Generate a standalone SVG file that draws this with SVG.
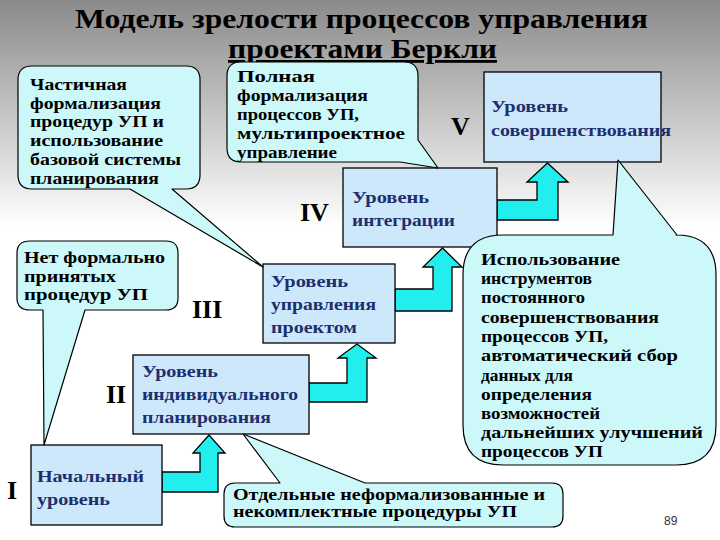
<svg xmlns="http://www.w3.org/2000/svg" width="720" height="540" viewBox="0 0 720 540">
<defs>
<linearGradient id="bg" x1="0" y1="0" x2="0" y2="1">
<stop offset="0" stop-color="#8a8a8a"/>
<stop offset="0.42" stop-color="#ffffff"/>
<stop offset="1" stop-color="#ffffff"/>
</linearGradient>
<style>
.title{font-family:"Liberation Serif","Times New Roman",serif;font-weight:bold;font-size:28px;fill:#000}
.roman{font-family:"Liberation Serif","Times New Roman",serif;font-weight:bold;font-size:26px;fill:#000}
.box{fill:#cde8fb;stroke:#000;stroke-width:1.3}
.btxt{font-family:"Liberation Serif","Times New Roman",serif;font-weight:bold;font-size:17px;fill:#1f2f6e}
.call{fill:#ccf8fa;stroke:#000;stroke-width:1.2;stroke-linejoin:round}
.ctxt{font-family:"Liberation Serif","Times New Roman",serif;font-weight:bold;font-size:17px;fill:#000}
.ctxe{font-family:"Liberation Serif","Times New Roman",serif;font-weight:bold;font-size:16px;fill:#000}
.arrow{fill:#22eeee;stroke:#000;stroke-width:1.3;stroke-linejoin:miter}
.pg{font-family:"Liberation Sans",Arial,sans-serif;font-size:12px;fill:#333}
</style>
</defs>
<rect x="0" y="0" width="720" height="540" fill="url(#bg)"/>

<g id="title">
<text class="title" x="75" y="28" textLength="573" lengthAdjust="spacingAndGlyphs">Модель зрелости процессов управления</text>
<text class="title" x="228" y="58" textLength="269" lengthAdjust="spacingAndGlyphs" text-decoration="underline">проектами Беркли</text>
</g>

<g id="connectors">
<path class="arrow" d="M162,472 H200 V453 H193 L209,435 L225,453 H218 V492 H162 Z"/>
<path class="arrow" d="M309,383 H347 V358 H338 L357,344 L376,358 H367 V402 H309 Z"/>
<path class="arrow" d="M395,289 H433 V267 H423 L442.5,248 L462,267 H452 V311 H395 Z"/>
<path class="arrow" d="M497,200 H537 V182 H527 L547.5,163 L568,182 H558 V220 H497 Z"/>
</g>

<g id="level-1">
<rect class="box" x="31" y="445" width="131" height="80"/>
<text class="roman" x="7" y="499">I</text>
<text class="btxt" x="37" y="482" textLength="107" lengthAdjust="spacingAndGlyphs">Начальный</text>
<text class="btxt" x="37" y="505" textLength="73" lengthAdjust="spacingAndGlyphs">уровень</text>
</g>

<g id="level-2">
<rect class="box" x="133" y="355" width="176" height="79"/>
<text class="roman" x="106" y="403">II</text>
<text class="btxt" x="142" y="377" textLength="76" lengthAdjust="spacingAndGlyphs">Уровень</text>
<text class="btxt" x="142" y="400" textLength="156" lengthAdjust="spacingAndGlyphs">индивидуального</text>
<text class="btxt" x="142" y="423" textLength="129" lengthAdjust="spacingAndGlyphs">планирования</text>
</g>

<g id="level-3">
<rect class="box" x="263" y="264" width="132" height="79"/>
<text class="roman" x="192" y="318">III</text>
<text class="btxt" x="271" y="287" textLength="77" lengthAdjust="spacingAndGlyphs">Уровень</text>
<text class="btxt" x="271" y="310" textLength="105" lengthAdjust="spacingAndGlyphs">управления</text>
<text class="btxt" x="271" y="333" textLength="86" lengthAdjust="spacingAndGlyphs">проектом</text>
</g>

<g id="level-4">
<rect class="box" x="343" y="168" width="154" height="79"/>
<text class="roman" x="300" y="221">IV</text>
<text class="btxt" x="352" y="203" textLength="77" lengthAdjust="spacingAndGlyphs">Уровень</text>
<text class="btxt" x="352" y="226" textLength="103" lengthAdjust="spacingAndGlyphs">интеграции</text>
</g>

<g id="level-5">
<rect class="box" x="484" y="72" width="177" height="90"/>
<text class="roman" x="451" y="135">V</text>
<text class="btxt" x="491" y="112" textLength="77" lengthAdjust="spacingAndGlyphs">Уровень</text>
<text class="btxt" x="491" y="136" textLength="180" lengthAdjust="spacingAndGlyphs">совершенствования</text>
</g>

<g id="callout-partial">
<path class="call" d="M32,66 H186 Q200,66 200,80 V175 Q200,189 186,189 H172 L263,267 L130,189 H32 Q18,189 18,175 V80 Q18,66 32,66 Z"/>
<text class="ctxt" x="30" y="90" textLength="97" lengthAdjust="spacingAndGlyphs">Частичная</text>
<text class="ctxt" x="30" y="109" textLength="131" lengthAdjust="spacingAndGlyphs">формализация</text>
<text class="ctxt" x="30" y="127" textLength="134" lengthAdjust="spacingAndGlyphs">процедур УП и</text>
<text class="ctxt" x="30" y="146" textLength="133" lengthAdjust="spacingAndGlyphs">использование</text>
<text class="ctxt" x="30" y="165" textLength="151" lengthAdjust="spacingAndGlyphs">базовой системы</text>
<text class="ctxt" x="30" y="184" textLength="129" lengthAdjust="spacingAndGlyphs">планирования</text>
</g>

<g id="callout-full">
<path class="call" d="M241,62 H404 Q418,62 418,76 V140 L438,168 L400,162 H241 Q227,162 227,148 V76 Q227,62 241,62 Z"/>
<text class="ctxt" x="237" y="82" textLength="78" lengthAdjust="spacingAndGlyphs">Полная</text>
<text class="ctxt" x="237" y="101" textLength="131" lengthAdjust="spacingAndGlyphs">формализация</text>
<text class="ctxt" x="237" y="120" textLength="122" lengthAdjust="spacingAndGlyphs">процессов УП,</text>
<text class="ctxt" x="237" y="139" textLength="168" lengthAdjust="spacingAndGlyphs">мультипроектное</text>
<text class="ctxt" x="237" y="158" textLength="100" lengthAdjust="spacingAndGlyphs">управление</text>
</g>

<g id="callout-tools">
<path class="call" d="M503,235 H613 L618,160 L677,235 H676 Q716,235 716,275 V425 Q716,465 676,465 H503 Q463,465 463,425 V275 Q463,235 503,235 Z"/>
<text class="ctxt" x="481" y="265" textLength="139" lengthAdjust="spacingAndGlyphs">Использование</text>
<text class="ctxt" x="481" y="284" textLength="111" lengthAdjust="spacingAndGlyphs">инструментов</text>
<text class="ctxt" x="481" y="303" textLength="104" lengthAdjust="spacingAndGlyphs">постоянного</text>
<text class="ctxt" x="481" y="323" textLength="178" lengthAdjust="spacingAndGlyphs">совершенствования</text>
<text class="ctxt" x="481" y="342" textLength="127" lengthAdjust="spacingAndGlyphs">процессов УП,</text>
<text class="ctxt" x="481" y="361" textLength="197" lengthAdjust="spacingAndGlyphs">автоматический сбор</text>
<text class="ctxt" x="481" y="381" textLength="92" lengthAdjust="spacingAndGlyphs">данных для</text>
<text class="ctxt" x="481" y="400" textLength="111" lengthAdjust="spacingAndGlyphs">определения</text>
<text class="ctxt" x="481" y="419" textLength="119" lengthAdjust="spacingAndGlyphs">возможностей</text>
<text class="ctxt" x="481" y="438" textLength="222" lengthAdjust="spacingAndGlyphs">дальнейших улучшений</text>
<text class="ctxt" x="481" y="457" textLength="122" lengthAdjust="spacingAndGlyphs">процессов УП</text>
</g>

<g id="callout-none">
<path class="call" d="M30,241 H166 Q178,241 178,253 V298 Q178,310 166,310 H85 L44,445 L43,310 H30 Q17,310 17,298 V253 Q17,241 30,241 Z"/>
<text class="ctxt" x="24" y="263" textLength="141" lengthAdjust="spacingAndGlyphs">Нет формально</text>
<text class="ctxt" x="24" y="282" textLength="92" lengthAdjust="spacingAndGlyphs">принятых</text>
<text class="ctxt" x="24" y="300" textLength="124" lengthAdjust="spacingAndGlyphs">процедур  УП</text>
</g>

<g id="callout-separate">
<path class="call" d="M235,483 H280 L243,434 L365,483 H552 Q563,483 563,494 V516 Q563,527 552,527 H235 Q224,527 224,516 V494 Q224,483 235,483 Z"/>
<text class="ctxe" x="233" y="500" textLength="312" lengthAdjust="spacingAndGlyphs">Отдельные неформализованные и</text>
<text class="ctxe" x="233" y="517" textLength="284" lengthAdjust="spacingAndGlyphs">некомплектные процедуры УП</text>
</g>

<text class="pg" x="664" y="525">89</text>
</svg>
